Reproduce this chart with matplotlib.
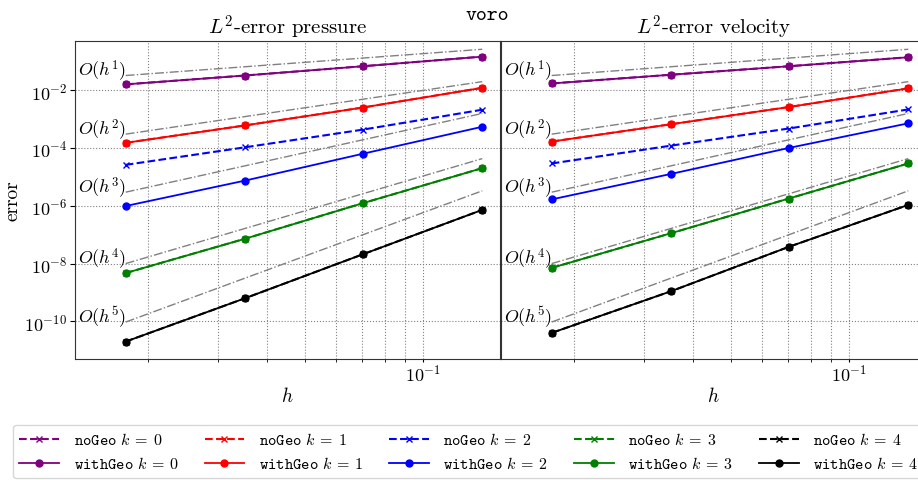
import numpy as np
import matplotlib
matplotlib.use("Agg")
import matplotlib.pyplot as plt
from matplotlib.ticker import NullLocator

plt.rcParams['font.family'] = 'serif'
plt.rcParams['font.serif'] = ['cmr10', 'DejaVu Serif']
plt.rcParams['mathtext.fontset'] = 'cm'
plt.rcParams['axes.formatter.use_mathtext'] = True

# mesh sizes
h = [0.0175, 0.0352, 0.0703, 0.1415]
orders = [0, 1, 2, 3, 4]
colors = ['purple', 'red', 'blue', 'green', 'black']

# L2-error pressure
p_noGeo = [
    [1.58e-2, 3.2e-2, 6.7e-2, 1.44e-1],
    [1.5e-4, 6.0e-4, 2.5e-3, 1.2e-2],
    [2.6e-5, 1.05e-4, 4.3e-4, 2.1e-3],
    [4.7e-9, 7.2e-8, 1.23e-6, 2.0e-5],
    [2.0e-11, 6.3e-10, 2.1e-8, 7.2e-7],
]
p_withGeo = [
    [1.58e-2, 3.2e-2, 6.7e-2, 1.44e-1],
    [1.5e-4, 6.0e-4, 2.5e-3, 1.2e-2],
    [9.8e-7, 7.4e-6, 6.3e-5, 5.4e-4],
    [4.7e-9, 7.2e-8, 1.23e-6, 2.0e-5],
    [2.0e-11, 6.3e-10, 2.1e-8, 7.2e-7],
]

# L2-error velocity
v_noGeo = [
    [1.7e-2, 3.4e-2, 6.7e-2, 1.37e-1],
    [1.66e-4, 6.6e-4, 2.6e-3, 1.15e-2],
    [2.9e-5, 1.2e-4, 4.7e-4, 2.15e-3],
    [7.1e-9, 1.12e-7, 1.78e-6, 2.9e-5],
    [4.0e-11, 1.1e-9, 3.8e-8, 1.07e-6],
]
v_withGeo = [
    [1.7e-2, 3.4e-2, 6.7e-2, 1.37e-1],
    [1.66e-4, 6.6e-4, 2.6e-3, 1.15e-2],
    [1.66e-6, 1.26e-5, 1.0e-4, 7.1e-4],
    [7.1e-9, 1.12e-7, 1.78e-6, 2.9e-5],
    [4.0e-11, 1.1e-9, 3.8e-8, 1.07e-6],
]

# reference slopes O(h^p), value at h[0]
ref_pow = [1, 2, 3, 4, 5]
ref_start = [3.2e-2, 3.0e-4, 2.95e-6, 1.0e-8, 9.5e-11]

yticks = [1e-10, 1e-8, 1e-6, 1e-4, 1e-2]

W, H = 918, 481
fig = plt.figure(figsize=(W / 100, H / 100), dpi=100)
ax1 = fig.add_axes([75 / W, 121 / H, 425 / W, 318 / H])
ax2 = fig.add_axes([501 / W, 121 / H, 425 / W, 318 / H], sharey=ax1)

hh = np.array(h)
for ax, noGeo, withGeo, title in [(ax1, p_noGeo, p_withGeo, r'$L^2$-error pressure'),
                                  (ax2, v_noGeo, v_withGeo, r'$L^2$-error velocity')]:
    for p, c0 in zip(ref_pow, ref_start):
        ax.plot(hh, c0 * (hh / hh[0]) ** p, '-.', color='gray', lw=1.0)
        ax.text(hh[0], c0, r'$O(h^{%d})$' % p, ha='right', va='baseline', fontsize=13)
    for k, c in zip(orders, colors):
        ax.plot(h, noGeo[k], '--x', color=c, lw=1.5, ms=5, label=r'$\mathtt{noGeo}\ k\:=\:%d$' % k)
        ax.plot(h, withGeo[k], '-o', color=c, lw=1.3, ms=5, label=r'$\mathtt{withGeo}\ k\:=\:%d$' % k)
    ax.set_xscale('log')
    ax.set_yscale('log')
    ax.set_xlim(0.0130, 0.157)
    ax.set_ylim(5e-12, 0.5)
    ax.set_yticks(yticks)
    ax.yaxis.set_minor_locator(NullLocator())
    ax.grid(True, which='both', axis='x', ls=':', color='gray', lw=0.8)
    ax.grid(True, which='major', axis='y', ls=':', color='gray', lw=0.8)
    ax.set_title(title, fontsize=15, pad=2)
    ax.set_xlabel(r'$h$', fontsize=14, labelpad=2)
    ax.tick_params(labelsize=13, pad=2)
    ax.tick_params(axis='x', which='both', pad=0, length=2.5)
    for s in ax.spines.values():
        s.set_color('#333333')

plt.setp(ax2.get_yticklabels(), visible=False)
ax2.tick_params(axis='y', length=0)
ax1.set_ylabel('error', fontsize=14, labelpad=2)

handles, labels = ax1.get_legend_handles_labels()
fig.legend(handles, labels, loc='upper left', bbox_to_anchor=(5 / W, (H - 418) / H),
           ncol=5, fontsize=11.5, handlelength=2.5, handletextpad=0.9,
           columnspacing=1.6, frameon=True)

fig.text(487 / W, 0.985, 'voro', family='cmtt10', fontsize=15, ha='center', va='top')

fig.savefig('out.png', dpi=100)
